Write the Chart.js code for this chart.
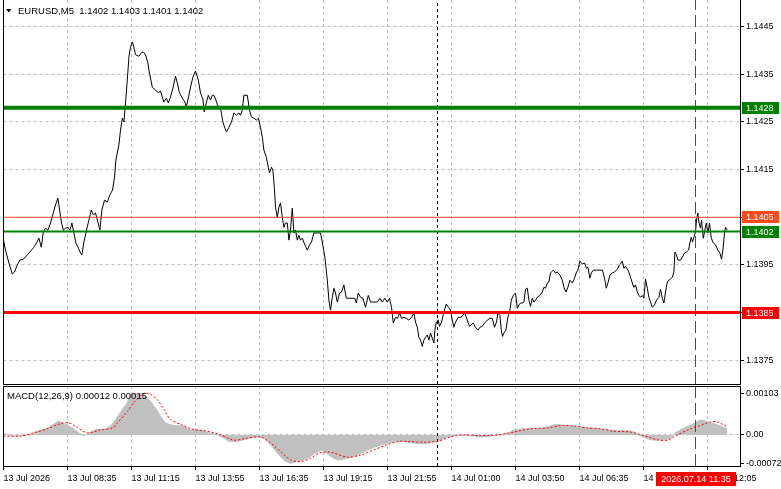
<!DOCTYPE html>
<html>
<head>
<meta charset="utf-8">
<script src="https://cdn.jsdelivr.net/npm/chart.js@4.4.1/dist/chart.umd.min.js"></script>
<style>
html,body{margin:0;padding:0;background:#fff;}
#wrap{position:relative;width:781px;height:489px;background:#fff;overflow:hidden;}
#c1{position:absolute;left:0;top:0;}
#c2{position:absolute;left:0;top:385px;}
</style>
</head>
<body>
<div id="wrap">
<canvas id="c1" width="781" height="386"></canvas>
<canvas id="c2" width="781" height="104"></canvas>
</div>
<script>
// ---------- DATA (x = bar number, 5-minute bars) ----------
const priceBars = [
0,1,2.7,4.4,5.5,6.9,8.2,10,11.9,13.2,13.9,15.2,16.5,17.7,18.9,19.9,21,22.2,23.5,24.9,26,27.2,28.2,29,29.9,31,32.2,33.2,34.2,35.2,36.2,37.5,38.5,39.2,40.2,41.5,42.7,43.9,44.9,46,47.2,48.2,49.2,50.5,51.9,53.2,54.5,55.5,56.2,56.9,57.7,58.5,59.4,60.2,61,61.9,62.7,63.5,64.4,65.2,66,67.7,68.9,69.9,71,72.2,
72.7,74.4,76,77.4,78.5,79.4,80.2,81.4,82.4,83.5,84.7,86,86.9,88,89.4,90.7,91.4,92.4,93.5,94.7,96,97.4,98.5,99.7,100.4,101.4,102.4,103.5,104.4,105.2,106,107.4,108.7,109.7,110.7,111.5,112.7,114,115.2,116.4,117.7,118.5,119.4,120.2,121.9,123,124,125.2,126.4,127.4,128.5,129.4,130.2,131.4,132.4,133,134,134.7,135.4,136,136.9,137.7,138.5,139.4,140.2,141,141.9,142.7,143.5,144.4,145.2,146,146.9,147.7,148.5,149.4,150.7,151.9,153,154,155.2,156.9,158.5,159.4,160.7,
161.9,162.7,163.5,164.4,165.2,166,166.9,168,169,170.2,171.4,172.7,174.4,175.7,176.4,177.4,178.5,179.7,181,182.4,183.5,185.2,186.9,188.2,189.4,190.7,191.9,193,194,194.9,196,197,198,199,200.2,201.4,202.7,204,205.2,206,206.9,207.7,208.5,209.4,210.2,211,211.9,212.7,213.5,214.4,215.2,215.7,216.4,217.4,218,219,220.2,221.4,222.4,223.5,224.4,225.2,226,227.4,228.7,229.7,230.7,231.9,233,
234.9,236,237.2,238.2,239.4,240.5,241.9,243.2,244.4,245.5,246.5,247.2,248.2,248.9,249.5,250.2,251.2,252.2,253.2,253.9,254.9,256,256.9,257.7,258.5,259.4,260.2,261,261.9,262.7,263.5,264.4,265.2,266,266.9,268.2,269.4,270.2,271,271.9,272.7,273.5,274.9,276,276.9,278.2,279.4,280.2,281.2,282.2,283.2,284.4,285.5,286.5,287.2,288.2,289.4,290.5,291.5,292.2,293.2,293.9,294.9,296.5,298.2,299.5,300.5,301.4,302.2,303.2,304.4,305.5,306.9,308,
308.5,309.4,310.2,311,311.9,312.7,313.5,314.4,315.2,316,316.9,317.7,318.5,319.4,320.2,321,321.9,322.7,323.5,324.4,325.5,326.5,327.7,328.5,329.4,330.2,331,331.9,332.7,333.5,334.4,335.2,335.7,336.5,337.2,338.5,339.4,340.5,341.5,342.5,343.2,343.9,344.5,345.2,346,346.5,347.2,347.7,348.5,349,349.9,350.7,351.4,352.2,353,353.9,354.9,356,357.2,358.2,359,359.7,360.5,361,361.9
];
const priceValues = [
1.14002,1.13981,1.13954,1.13931,1.13935,1.13950,1.13960,1.13962,1.13971,1.13977,1.13981,1.13987,1.13996,1.14006,1.13987,1.14019,1.14027,1.14023,1.14038,1.14059,1.14076,1.14090,1.14061,1.14038,1.14023,1.14027,1.14029,1.14023,1.14038,1.14017,1.13996,1.13985,1.13975,1.13971,1.13998,1.14023,1.14044,1.14065,1.14055,1.14059,1.14040,1.14023,1.14065,1.14086,1.14082,1.14097,1.14107,1.14134,1.14170,1.14185,1.14202,1.14233,1.14258,1.14250,1.14290,1.14338,1.14386,1.14407,1.14418,1.14407,1.14391,1.14388,1.14395,1.14397,1.14391,1.14374,
1.14359,1.14323,1.14317,1.14311,1.14315,1.14302,1.14292,1.14300,1.14290,1.14302,1.14321,1.14346,1.14332,1.14311,1.14300,1.14292,1.14281,1.14300,1.14323,1.14344,1.14357,1.14338,1.14311,1.14298,1.14271,1.14290,1.14306,1.14296,1.14306,1.14306,1.14298,1.14281,1.14275,1.14250,1.14237,1.14229,1.14239,1.14250,1.14269,1.14264,1.14269,1.14264,1.14275,1.14306,1.14306,1.14275,1.14260,1.14258,1.14254,1.14258,1.14239,1.14218,1.14191,1.14176,1.14155,1.14143,1.14155,1.14149,1.14113,1.14071,1.14050,1.14071,1.14080,1.14050,1.14029,1.14038,1.14038,1.14002,1.14023,1.14069,1.14017,1.14023,1.14002,1.14012,1.14002,1.14006,1.13992,1.13981,1.13992,1.13998,1.14017,1.14017,1.14017,1.13998,1.13966,
1.13918,1.13876,1.13855,1.13882,1.13901,1.13891,1.13872,1.13891,1.13893,1.13908,1.13880,1.13880,1.13880,1.13880,1.13870,1.13891,1.13882,1.13880,1.13861,1.13886,1.13872,1.13872,1.13872,1.13880,1.13872,1.13880,1.13872,1.13880,1.13861,1.13828,1.13840,1.13838,1.13849,1.13838,1.13840,1.13838,1.13834,1.13840,1.13849,1.13830,1.13819,1.13798,1.13792,1.13779,1.13792,1.13798,1.13803,1.13792,1.13807,1.13796,1.13786,1.13813,1.13830,1.13834,1.13821,1.13830,1.13851,1.13868,1.13861,1.13855,1.13834,1.13819,1.13830,1.13840,1.13840,1.13844,1.13849,1.13834,1.13821,
1.13828,1.13819,1.13813,1.13819,1.13821,1.13828,1.13834,1.13838,1.13838,1.13819,1.13830,1.13849,1.13844,1.13813,1.13800,1.13807,1.13813,1.13840,1.13855,1.13876,1.13886,1.13891,1.13859,1.13866,1.13870,1.13870,1.13872,1.13899,1.13901,1.13876,1.13863,1.13880,1.13872,1.13876,1.13882,1.13886,1.13893,1.13903,1.13901,1.13912,1.13914,1.13933,1.13939,1.13933,1.13935,1.13929,1.13918,1.13903,1.13893,1.13903,1.13918,1.13912,1.13922,1.13935,1.13939,1.13958,1.13952,1.13954,1.13943,1.13945,1.13922,1.13933,1.13939,1.13939,1.13939,1.13939,1.13922,1.13901,1.13912,1.13929,1.13933,1.13935,1.13941,1.13950,
1.13952,1.13958,1.13943,1.13947,1.13941,1.13935,1.13924,1.13912,1.13903,1.13908,1.13893,1.13886,1.13882,1.13886,1.13880,1.13920,1.13901,1.13882,1.13872,1.13861,1.13866,1.13876,1.13882,1.13899,1.13880,1.13870,1.13893,1.13914,1.13918,1.13920,1.13924,1.13935,1.13977,1.13971,1.13960,1.13960,1.13966,1.13975,1.13977,1.13981,1.13996,1.14008,1.13998,1.14008,1.14019,1.14044,1.14059,1.14040,1.14027,1.14044,1.14006,1.14023,1.14038,1.14017,1.14038,1.14006,1.13996,1.13992,1.13981,1.13975,1.13962,1.13981,1.14017,1.14029,1.14023
];
const histBars = [0,3.5,8.5,13.5,16.9,21.9,26,27.7,31,34.4,37.7,40.2,42.7,46,50.2,53.5,56,59.4,61.9,63.5,68.5,71.9,75.2,78.5,81,85.2,89.4,93.5,98.5,102.7,106.9,110.2,112.7,116.9,121.9,126.9,130.2,133.5,136.9,140.2,143.2,146.9,151.9,156,159.4,162.7,166.9,171.9,176.9,181.9,186.9,191.9,196.9,201.9,210.2,216.9,221.9,226.9,233.5,238.5,245.2,251.9,255.2,260.2,266.9,271.9,276,281.9,288.5,295.2,301.9,308.5,313.5,318.5,323.5,328.5,333.5,336,340.2,344.4,348.5,353.5,358.5,361.9];
const histValues = [0.00004,-0.00001,-0.00002,0,0.00009,0.00017,0.0003,0.00034,0.00026,0.00017,0.00005,-0.00002,0.00005,0.00013,0.00014,0.00022,0.00038,0.00063,0.0008,0.001,0.00103,0.00092,0.00072,0.00047,0.0003,0.00023,0.00022,0.00013,0.00012,0.00005,0,-0.00008,-0.00016,-0.00016,-0.0001,-0.00005,-0.00008,-0.00024,-0.00045,-0.00062,-0.0007,-0.00066,-0.00058,-0.00045,-0.00038,-0.0005,-0.00062,-0.00058,-0.0005,-0.00038,-0.00028,-0.0002,-0.00016,-0.00018,-0.00022,-0.00016,-0.00005,0,-0.00002,-0.00005,-0.00002,0.00003,0.00012,0.00015,0.00015,0.0002,0.00026,0.00022,0.00019,0.00017,0.00012,0.0001,0.0001,-0.00002,-0.00012,-0.00013,-0.00008,0.00005,0.00017,0.00026,0.00037,0.0003,0.00022,0.00015];
const signalBars = [0,8.5,15,21.9,28.5,32.7,36.9,41.9,48.5,54.4,57.7,61.9,65.2,70.2,73.5,76.9,80.2,83.5,88.5,95.2,101.9,108.5,115.2,121.9,128.5,133.5,138.5,143.5,148.5,153.5,157.7,163.5,171.9,178.5,185.2,191.9,197.7,201.9,210.2,216.9,223.5,230.2,238.5,246.9,255.2,263.5,271.9,278.5,285.2,291.9,298.5,305.2,313.5,320.2,326.9,331.9,336.9,343.5,348.5,353.5,356.9,361.9];
const signalValues = [-0.00003,-0.00003,0.00005,0.00015,0.00028,0.0003,0.00018,0.00005,0.00012,0.00017,0.00034,0.00058,0.0008,0.00103,0.001,0.00087,0.00063,0.00038,0.00026,0.00013,0.00009,0,-0.00013,-0.00008,-0.00005,-0.0002,-0.00041,-0.00062,-0.00066,-0.00058,-0.00045,-0.00043,-0.00055,-0.0005,-0.00037,-0.00024,-0.00016,-0.00016,-0.00018,-0.00016,-0.00005,0,-0.00002,0,0.00007,0.00015,0.00017,0.00023,0.00022,0.00017,0.00015,0.00009,0.00007,-0.00002,-0.00012,-0.00013,0,0.00015,0.00023,0.00032,0.00032,0.0002];

const timeTickBars = [0,32,64,96,128,160,192,224,256,288,320,352];
const timeTickLabels = ['13 Jul 2026','13 Jul 08:35','13 Jul 11:15','13 Jul 13:55','13 Jul 16:35','13 Jul 19:15','13 Jul 21:55','14 Jul 01:00','14 Jul 03:50','14 Jul 06:35','14 Jul 09:15','14 Jul 12:05'];
const priceTicks = [1.1375,1.1385,1.1395,1.1405,1.1415,1.1425,1.1435,1.1445];
const priceTickLabels = ['1.1375','','1.1395','','1.1415','1.1425','1.1435','1.1445'];
const macdTicks = [-0.00072,0,0.00103];
const macdTickLabels = ['-0.00072','0.00','0.00103'];
const levelValues = [1.1428,1.1405,1.1402,1.1385];
const separatorBar = 217;
const cursorBar = 346;
const cursorLabel = '2026.07.14 11:35';
const headerText = 'EURUSD,M5  1.1402 1.1403 1.1401 1.1402';
const macdText = 'MACD(12,26,9) 0.00012 0.00015';

// ---------- STYLE ----------
const levelStyles = [
  {color:'#008000', width:4},
  {color:'#ff4a1c', width:1},
  {color:'#008000', width:2},
  {color:'#ff0000', width:3}
];
const BAR_MAX = 368.25;
const PRICE_MIN = 1.1370, PRICE_MAX = 1.14506;
const MACD_MIN = -0.00077, MACD_MAX = 0.00121;
const GRID = '#c0c0c0';
const FONT = {family:"'Liberation Sans', Arial, sans-serif", size:9};
Chart.defaults.font.family = FONT.family;
Chart.defaults.font.size = 9;
Chart.defaults.color = '#000';

const pts = (xs, ys) => xs.slice(0, Math.min(xs.length, ys.length)).map((x,i)=>({x:x, y:ys[i]}));
const vline = (bar, lo, hi) => [{x:bar,y:lo},{x:bar,y:hi}];
const hline = (v) => [{x:0,y:v},{x:BAR_MAX,y:v}];
const noPad = s => { s.paddingTop = 0; s.paddingBottom = 0; s.paddingLeft = 0; s.paddingRight = 0; };

const framePlugin = {
  id:'frame',
  afterDraw(chart, args, opts){
    const {ctx, chartArea:a} = chart;
    const lx = Math.floor(a.left) + 0.5;
    ctx.save();
    ctx.strokeStyle = '#000'; ctx.lineWidth = 1; ctx.setLineDash([]);
    ctx.beginPath();
    ctx.moveTo(lx, a.top); ctx.lineTo(lx, a.bottom+1);
    if (opts.top) { ctx.moveTo(lx-0.5, Math.floor(a.top)+0.5); ctx.lineTo(a.right+1, Math.floor(a.top)+0.5); }
    ctx.stroke();
    ctx.restore();
  }
};

const levelLabelPlugin = {
  id:'levelLabels',
  afterDraw(chart){
    const {ctx} = chart; const y = chart.scales.y;
    ctx.save();
    ctx.font = '9px ' + FONT.family;
    ctx.textBaseline = 'middle'; ctx.textAlign = 'left';
    levelValues.forEach((v,i)=>{
      const py = Math.round(y.getPixelForValue(v));
      ctx.fillStyle = levelStyles[i].color;
      ctx.fillRect(742, py-6, 37, 12);
      ctx.fillStyle = '#fff';
      ctx.fillText(v.toFixed(4), 746, py+0.5);
    });
    ctx.fillStyle = '#000';
    ctx.beginPath(); ctx.moveTo(6,9); ctx.lineTo(11.5,9); ctx.lineTo(8.75,12.5); ctx.closePath(); ctx.fill();
    ctx.font = '9.5px ' + FONT.family;
    ctx.fillText(headerText, 18, 11);
    ctx.restore();
  }
};

const cursorLabelPlugin = {
  id:'cursorLabel',
  afterDraw(chart){
    const {ctx} = chart; const x = chart.scales.x;
    const px = Math.round(x.getPixelForValue(cursorBar));
    ctx.save();
    ctx.font = '9px ' + FONT.family;
    ctx.fillStyle = '#ff0000';
    ctx.fillRect(px-40, 87, 80, 14);
    ctx.fillStyle = '#fff'; ctx.textAlign = 'center'; ctx.textBaseline = 'middle';
    ctx.fillText(cursorLabel, px, 94.5);
    ctx.fillStyle = '#000'; ctx.textAlign = 'left';
    ctx.font = '9.5px ' + FONT.family;
    ctx.fillText(macdText, 7, 11);
    ctx.restore();
  }
};

const xScaleBase = {
  type:'linear', min:0, max:BAR_MAX,
  afterBuildTicks: s => { s.ticks = timeTickBars.map(v=>({value:v})); }
};

// ---------- MAIN PRICE CHART ----------
new Chart(document.getElementById('c1'), {
  type:'line',
  data:{ datasets:[
    {data:vline(cursorBar, PRICE_MIN, PRICE_MAX), borderColor:'#ff0000', borderWidth:1, borderDash:[12,5], order:0},
    ...levelValues.map((v,i)=>({data:hline(v), borderColor:levelStyles[i].color, borderWidth:levelStyles[i].width, order:1})),
    {data:vline(separatorBar, PRICE_MIN, PRICE_MAX), borderColor:'#000', borderWidth:1, borderDash:[3,3], order:2},
    {data:pts(priceBars, priceValues), borderColor:'#000', borderWidth:1, tension:0, order:3}
  ]},
  options:{
    responsive:false, animation:false, events:[],
    layout:{padding:{left:3.5, top:0, right:0, bottom:0}},
    elements:{point:{radius:0}, line:{borderCapStyle:'butt'}},
    plugins:{legend:{display:false}, tooltip:{enabled:false}, frame:{top:false}},
    scales:{
      x:Object.assign({}, xScaleBase, {
        ticks:{display:false},
        grid:{color:GRID, lineWidth:1, drawTicks:false},
        border:{display:true, color:'#000', dash:[3,3]},
        afterFit: s => { s.height = 2; noPad(s); }
      }),
      y:{
        type:'linear', position:'right', min:PRICE_MIN, max:PRICE_MAX,
        afterBuildTicks: s => { s.ticks = priceTicks.map(v=>({value:v})); },
        ticks:{padding:2, font:FONT, color:'#000', callback:(v,i)=>priceTickLabels[i]},
        grid:{color:GRID, lineWidth:1, tickColor:'#000', tickLength:4, tickBorderDash:[]},
        border:{display:true, color:'#000', dash:[3,3]},
        afterFit: s => { s.width = 41; noPad(s); }
      }
    }
  },
  plugins:[framePlugin, levelLabelPlugin]
});

// ---------- MACD CHART ----------
new Chart(document.getElementById('c2'), {
  type:'line',
  data:{ datasets:[
    {data:vline(cursorBar, MACD_MIN, MACD_MAX), borderColor:'#ff0000', borderWidth:1, borderDash:[12,5], order:0},
    {data:vline(separatorBar, MACD_MIN, MACD_MAX), borderColor:'#000', borderWidth:1, borderDash:[3,3], order:1},
    {data:pts(signalBars, signalValues), borderColor:'#ff0000', borderWidth:1, borderDash:[2,2], tension:0.3, order:2},
    {data:pts(histBars, histValues), borderColor:'#c0c0c0', backgroundColor:'#c0c0c0', borderWidth:1, fill:'origin', tension:0.2, order:3}
  ]},
  options:{
    responsive:false, animation:false, events:[],
    layout:{padding:{left:3.5, top:1, right:0, bottom:0}},
    elements:{point:{radius:0}},
    plugins:{legend:{display:false}, tooltip:{enabled:false}, frame:{top:true}},
    scales:{
      x:Object.assign({}, xScaleBase, {
        ticks:{display:true, align:'start', autoSkip:false, maxRotation:0, minRotation:0, padding:3, font:FONT, color:'#000', callback:(v,i)=>timeTickLabels[i]},
        grid:{color:GRID, lineWidth:1, tickColor:'#000', tickLength:4, tickBorderDash:[]},
        border:{display:true, color:'#000', dash:[3,3]},
        afterFit: s => { s.height = 23; noPad(s); }
      }),
      y:{
        type:'linear', position:'right', min:MACD_MIN, max:MACD_MAX,
        afterBuildTicks: s => { s.ticks = macdTicks.map(v=>({value:v})); },
        ticks:{padding:2, font:FONT, color:'#000', callback:(v,i)=>macdTickLabels[i]},
        grid:{color: c => (c.tick && c.tick.value === 0) ? GRID : 'rgba(0,0,0,0)', lineWidth:1, tickColor:'#000', tickLength:4, tickBorderDash:[]},
        border:{display:true, color:'#000', dash:[3,3]},
        afterFit: s => { s.width = 41; noPad(s); }
      }
    }
  },
  plugins:[framePlugin, cursorLabelPlugin]
});
</script>
</body>
</html>
